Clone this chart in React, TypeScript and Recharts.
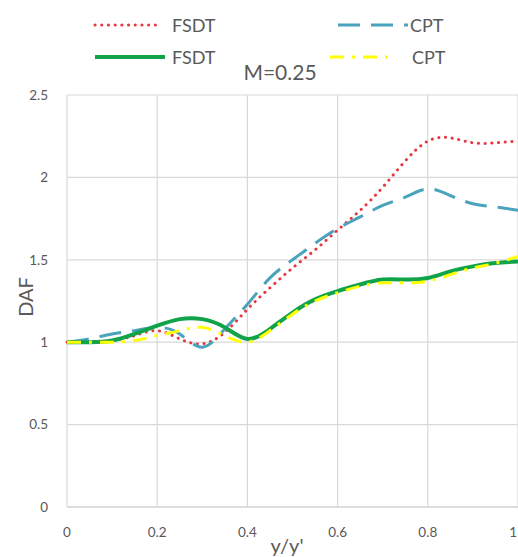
import { LineChart, Line, XAxis, YAxis, CartesianGrid } from "recharts";

// y/y' positions, sampled every 0.05
const X = [0, 0.05, 0.1, 0.15, 0.2, 0.25, 0.3, 0.35, 0.4, 0.45, 0.5, 0.55, 0.6, 0.65, 0.7, 0.75, 0.8, 0.85, 0.9, 0.95, 1];

const FSDT_A = [1.0, 1.0, 1.01, 1.04, 1.07, 1.02, 0.99, 1.06, 1.2, 1.33, 1.45, 1.56, 1.68, 1.8, 1.94, 2.1, 2.22, 2.24, 2.21, 2.21, 2.22];
const CPT_A = [1.0, 1.02, 1.05, 1.07, 1.09, 1.05, 0.97, 1.08, 1.23, 1.39, 1.5, 1.6, 1.69, 1.76, 1.83, 1.88, 1.93, 1.89, 1.84, 1.82, 1.8];
const FSDT_B = [1.0, 1.0, 1.01, 1.05, 1.1, 1.14, 1.14, 1.09, 1.02, 1.08, 1.18, 1.26, 1.31, 1.35, 1.38, 1.38, 1.39, 1.43, 1.46, 1.48, 1.49];
const CPT_B = [1.0, 1.0, 1.0, 1.01, 1.04, 1.07, 1.09, 1.04, 1.0, 1.07, 1.17, 1.25, 1.3, 1.34, 1.36, 1.36, 1.37, 1.41, 1.45, 1.48, 1.52];

const X_TICKS = [0, 0.2, 0.4, 0.6, 0.8, 1];
const Y_TICKS = [0, 0.5, 1, 1.5, 2, 2.5];

const data = X.map((x, i) => ({
  x,
  fsdtA: FSDT_A[i],
  cptA: CPT_A[i],
  fsdtB: FSDT_B[i],
  cptB: CPT_B[i],
}));

const TEXT = "#595959";
const GRID = "#d9d9d9";

const SERIES = [
  { key: "fsdtA", name: "FSDT", color: "#e8363f", width: 3, dash: "0.1 6.6", cap: "round" as const },
  { key: "cptA", name: "CPT", color: "#4aa3bd", width: 3, dash: "22 11", cap: "butt" as const },
  { key: "fsdtB", name: "FSDT", color: "#10a349", width: 4, dash: undefined, cap: "butt" as const },
  { key: "cptB", name: "CPT", color: "#ffff00", width: 3, dash: "14 8 3 8", cap: "butt" as const },
];

// legend slots: [line x, line length, text x, row y]
const LEGEND_POS = [
  [95, 64, 172, 25],
  [338, 70, 410, 25],
  [95, 70, 172, 57],
  [330, 62, 412, 57],
];

// x tick: the last label sits against the right edge, so anchor it at its end
const XTick = ({ x, y, payload }: any) => {
  const last = payload.value === 1;
  return (
    <text
      x={last ? x - 1 : x}
      y={y}
      dy="0.71em"
      textAnchor={last ? "end" : "middle"}
      fill={TEXT}
      fontSize={13.5}
    >
      {String(payload.value)}
    </text>
  );
};

function LegendItems() {
  return (
    <>
      {SERIES.map((s, i) => {
        const [lx, len, tx, y] = LEGEND_POS[i];
        return (
          <div key={s.key}>
            <svg
              width={len + 4}
              height={10}
              style={{ position: "absolute", left: lx - 2, top: y - 5 }}
            >
              <line
                x1={2}
                x2={len + 2}
                y1={5}
                y2={5}
                stroke={s.color}
                strokeWidth={s.width}
                strokeDasharray={s.dash}
                strokeLinecap={s.cap}
              />
            </svg>
            <div
              style={{
                position: "absolute",
                left: tx,
                top: y - 12,
                fontSize: 18,
                lineHeight: "24px",
                color: TEXT,
              }}
            >
              {s.name}
            </div>
          </div>
        );
      })}
    </>
  );
}

export default function App() {
  return (
    <div
      style={{
        position: "absolute",
        left: 0,
        top: 0,
        width: 518,
        height: 557,
        overflow: "hidden",
        background: "#fff",
        fontFamily: "Lato, 'Open Sans', sans-serif",
      }}
    >
      <LineChart width={530} height={557} data={data} margin={{ top: 95, right: 12, bottom: 0, left: 7 }}>
        <CartesianGrid stroke={GRID} strokeWidth={1.2} />
        <XAxis
          dataKey="x"
          type="number"
          domain={[0, 1]}
          ticks={X_TICKS}
          height={50}
          tickSize={0}
          tickMargin={20}
          axisLine={{ stroke: GRID, strokeWidth: 1.5 }}
          tickLine={false}
          tick={<XTick />}
        />
        <YAxis
          type="number"
          domain={[0, 2.5]}
          ticks={Y_TICKS}
          width={60}
          tickSize={0}
          tickMargin={19}
          axisLine={false}
          tickLine={false}
          tick={{ fill: TEXT, fontSize: 13.5 }}
          tickFormatter={(v: number) => String(v)}
        />
        {SERIES.map((s) => (
          <Line
            key={s.key}
            dataKey={s.key}
            name={s.name}
            type="natural"
            stroke={s.color}
            strokeWidth={s.width}
            strokeDasharray={s.dash}
            strokeLinecap={s.cap}
            dot={false}
            activeDot={false}
            isAnimationActive={false}
          />
        ))}
      </LineChart>

      <LegendItems />

      <div
        style={{
          position: "absolute",
          left: 230,
          top: 58,
          width: 100,
          textAlign: "center",
          fontSize: 21,
          lineHeight: "28px",
          color: TEXT,
        }}
      >
        M=0.25
      </div>

      <div
        style={{
          position: "absolute",
          left: 25,
          top: 297,
          transform: "translate(-50%, -50%) rotate(-90deg)",
          fontSize: 20,
          color: TEXT,
          whiteSpace: "nowrap",
        }}
      >
        DAF
      </div>

      <div
        style={{
          position: "absolute",
          left: 287,
          top: 545,
          transform: "translate(-50%, -50%)",
          fontSize: 20,
          color: TEXT,
          whiteSpace: "nowrap",
        }}
      >
        y/y'
      </div>
    </div>
  );
}
